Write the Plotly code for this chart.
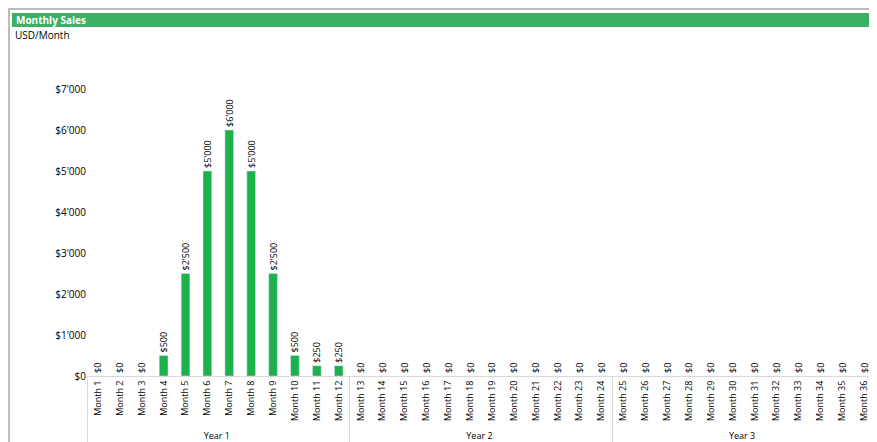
import plotly.graph_objects as go

years = ["Year 1"]*12 + ["Year 2"]*12 + ["Year 3"]*12
months = [f"Month {i}" for i in range(1, 37)]
sales = [0, 0, 0, 500, 2500, 5000, 6000, 5000, 2500, 500, 250, 250] + [0]*24
labels = [f"${v:,}".replace(",", "'") for v in sales]

W, H = 877, 442
L, R, T, B = 79, 10, 81, 74
pw, ph = W - L - R, H - T - B
def px(x): return (x - L) / pw
def py(y): return (H - B - y) / ph

fig = go.Figure(go.Bar(
    x=[years, months], y=sales, marker_color="#1DB14B", width=0.4,
    text=labels, textposition="outside", textangle=-90, constraintext="none",
    textfont=dict(size=9, color="#000"), cliponaxis=False,
))
fig.update_layout(
    width=W, height=H, margin=dict(l=L, r=R, t=T, b=B, autoexpand=False),
    plot_bgcolor="white", paper_bgcolor="white",
    font=dict(family="Open Sans", size=9, color="#000"),
    showlegend=False,
    yaxis=dict(range=[0, 7000], tickvals=list(range(0, 7001, 1000)),
               ticktext=[f"${v//1000}'000" if v else "$0" for v in range(0, 7001, 1000)],
               showgrid=False, zeroline=False, showline=False, ticks="", ticklen=0,
               tickfont=dict(size=10), automargin=False),
    xaxis=dict(type="multicategory", showgrid=False, showline=True, linecolor="#d9d9d9",
               tickangle=-90, tickfont=dict(size=9), showdividers=True, dividercolor="#d9d9d9",
               automargin=False),
    shapes=[
        dict(type="rect", xref="paper", yref="paper", x0=px(1), x1=px(876), y0=py(1), y1=py(440),
             line=dict(color="#a6a6a6", width=1.5), fillcolor="rgba(0,0,0,0)", layer="below"),
        dict(type="rect", xref="paper", yref="paper", x0=px(4), x1=px(873), y0=py(5), y1=py(19),
             line=dict(width=0), fillcolor="#3BAF64"),
    ],
    annotations=[
        dict(text="<b>Monthly Sales</b>", xref="paper", yref="paper", x=px(6), y=py(12),
             xanchor="left", yanchor="middle", showarrow=False, font=dict(color="white", size=10)),
        dict(text="USD/Month", xref="paper", yref="paper", x=px(5), y=py(27),
             xanchor="left", yanchor="middle", showarrow=False, font=dict(size=10)),
    ],
)
fig.write_html("out.html")
